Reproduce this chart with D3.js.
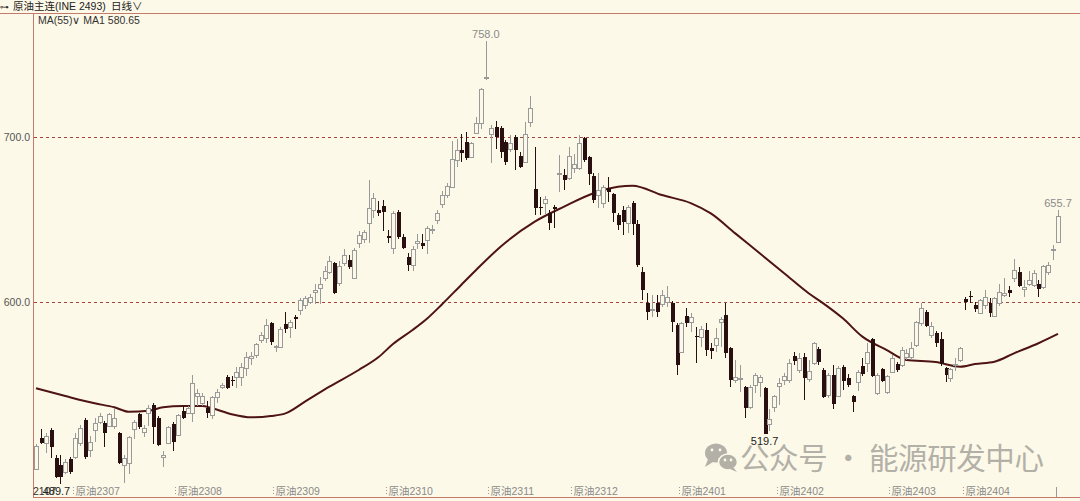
<!DOCTYPE html>
<html><head><meta charset="utf-8">
<script src="https://cdn.jsdelivr.net/npm/d3@7"></script>
<style>html,body{margin:0;padding:0;background:#fdf9e8;overflow:hidden}svg{display:block}</style>
</head><body><svg id="c" width="1080" height="501"></svg>
<script>
// ---- data ----
const opens = [
499,517.6,514.5,522.4,505.5,501,497,505,506,514.5,
528.5,510,522.4,527,526.7,525,525,520.6,501,502.4,
523,532,521,533,537.6,529.7,506,514.5,526,519.4,
534,533,533,543,539,536,531.5,542.4,548.5,554.5,
553,554.5,554.5,560,566,568,577,578,587,573,
573,586.7,584.8,591,595,598,600,606,608.5,614.5,
618,623.6,611.5,623.6,625.5,614.5,635.7,638,648,655.7,
656,658,640,633,654.5,639.4,627,622.4,635.8,635.8,
637.6,643.6,649.7,659.4,664.8,669.7,686,692,697,688,
702.4,708.5,735.8,701.8,706,705.5,697,692.7,700,688.5,
684.8,709,668.5,657.6,660,654,657.6,677.6,677,675,
681,681,699.4,688,676.4,664.8,660,669,665.5,652.7,
655.8,648,660,647,618,599.4,595.5,599.4,598.8,600,
599.4,586,569.7,591.5,588,579.4,578.8,583,572,574,
588,592,572,552.7,553.9,548.5,536.4,549.7,551.5,547.9,
526,536.4,549,552.7,552.7,567.3,558.8,566.7,553.3,563,
571.5,558.8,543.6,555.8,543,560.6,554,543,551.5,561.2,
563,577.6,544.8,559.4,545.5,557.6,562.4,561.8,566.7,566.7,
574,587.3,594,580,581.2,577.6,560,554,562,564.8,
601.8,603.6,598.2,593.3,598.2,599.4,591.5,599.4,604.2,607,
614.5,618,607.9,611,610.3,611,609,618,631.5,636.4];
const highs = [
514,523,520.6,523.6,507.3,507,505,506,520.6,525.5,
529.7,518.8,529.7,532.8,528,533,536,521,507.3,518.5,
528.5,532.8,525.5,537.6,539,531,510,525,527,532,
537,537,556,547,545,540,543,547,551,556,
555,560.6,563,570,570,575,582,590,588,574,
584.8,594,589,592,602.4,603.6,605,611,615,622,
628,624,625,632,628.5,632.7,643,643.6,674,666,
661,662,643.6,655,656,641,629.7,634,641,641,
646,646.6,656,667,672,697.6,699,701.6,703,697,
712,730,758,707.5,709.7,706.7,698,701,701,691,
709,724.8,694,663.6,664,656,659,689,680.6,694,
689.7,701,700,688.5,678,678,671,675.8,666,654,
658,659,661,649.7,621,605.5,604,604,607,610,
600.6,587,588,596.4,593.3,585,585.5,587.3,575,584,
591,599.4,572.7,564.8,561.8,549,550,557,556,548.5,
535,543.6,554,557,565.5,570,569,569,564.8,575.8,
573,560,557,561.8,561,562,556.4,543.6,559,566,
575,578.2,557,560,556,567.9,563.6,573,571.5,575.8,
588.5,599.4,595,588,582.4,581.8,560.6,560,566,573,
603,606.6,600,602,607,602.4,603,611,614.5,610,
626,621,613.3,618.8,619.4,613.3,622.4,624.2,634.5,655.7];
const lows = [
498,514,508.5,505.5,493.3,489.7,496,496,505,513,
505,506,515,526,512,524,523,502,490.5,496,
517,523,518,525,514,513,500,514,510,519,
529,532,527,537,537,530,529,539,547,547,
549,548,549,555,562,566,575,575,574,570,
572.7,581,578,583.6,592,596,599,599,599,613,
617,605,610,622,620,614,633,636,636,651,
652,643,636,629,638,632,619,619,632,632,
629,641,647,657,663,669,682,684.8,686,687,
701.6,705,734.5,684,693,687,683,691,680,681,
684,706,653,653,653,643.6,645,666.7,668,674,
678,680,685,671,660,657,657,660.6,648.5,643.6,
640.6,641.8,640.6,621,601,589,591,591,597,597,
582,555.8,569,585,582,563,573,567,565.5,569.7,
573,566,548.5,551,545.5,529.7,535,545,542.4,519.7,
522,533.3,537.6,550,551,561.8,557,540.6,551.5,561.8,
561.8,541.8,541.8,535,542.4,546.7,548.5,533.3,546,555,
557.6,554.5,543.6,551.5,544,557,557.6,560.6,564.8,564.8,
572.7,585.5,584.8,578,573,561.2,551.5,551.5,558,563.6,
595,599.4,594,593,596,591,591,597.6,603,603,
612,609,603,610,609,603,608,616.4,625.5,635.8];
const closes = [
513,514.5,518.8,512,494,494,503,497,517.6,523.6,
506,515,526.7,531,520.6,532,529.7,502.4,505.5,518,
527.3,524,523.6,536,524,513.3,507,524.2,515,531.5,
529.7,536,551,545,543,533,542.4,545.5,549.7,548,
552,557.6,560.6,566.7,567.3,574.5,580,586,575.8,573.3,
583.6,583.6,587.9,589.7,601,602.4,603,607,611,619,
625,605.5,621.8,628.5,621,631.5,640.6,642.4,657,663,
654,654.5,639,654,639.4,632.7,622.4,632,637,634,
644.8,644,654,664.8,670.3,686.7,692,690.3,687,696.4,
708.5,729,736.4,705.5,700,691,685,696.4,692,681.8,
701.8,717.6,657,657,662.4,648,656.4,678.2,674,688.5,
683.6,696.4,686,677.6,661.8,667.9,669.7,666.7,654,646.6,
648.5,657.6,647,622.4,607.3,594,596,594,604,603,
588,561.8,587.3,587.3,591,578.5,583.6,571,570.3,578,
589.7,569,552.7,554.5,554,535.8,548.5,555.8,554.5,520,
529,543,551,555,563,564.2,566,554,558.2,575,
563.6,542.4,555.8,538,560,552,549.7,539.4,557.6,556.4,
569.7,555,555.8,552,555,566,558.8,571,569,572,
588,596.4,585.5,585.5,575,562.4,555.8,559.4,562.3,572,
600,603,595.8,601,603,593.3,602.4,606,605.5,605.5,
619.4,609.7,609,613.3,617.6,608,621.8,622.4,632.1,652.1];
// MA(55): candle index -> value
const maIdx = [0,6,12,16,19,23,26,30,34,36,40,44,48,51,55,60,66,70,73,77,80,83,87,90,95,102,108,114,119,122,128,134,138,143,148,153,158,161,165,169,174,178,184,189,192,196,200,205,209];
const maVal = [547.7,543,538.6,536.2,533.5,534.1,536.2,537,537,535.6,532,530.1,530.9,532.5,539.6,548.7,558.8,566.5,574.5,583,590,598.5,610.5,619.4,633.5,648.7,657.8,665.9,669.9,670.5,664.8,659.8,653.7,641.6,629.5,617.4,605.3,599.2,590.1,579,570.9,564.8,563.6,560.8,562.4,563.8,568.9,575,580.65];
const yTicks = [600, 700];
const contractLabels = ["原油2307","原油2308","原油2309","原油2310","原油2311","原油2312","原油2401","原油2402","原油2403","原油2404"];
const contractStart = [8,29,49,72,93,110,132,152,175,190];
const maLast = 580.65;

// ---- chart ----
const W = 1080, H = 501;
const svg = d3.select("#c");
const bg = "#fdf9e8", frame = "#c67a6a", upC = "#9a9a9a", dnC = "#2a0f10", maC = "#4e1414";
const sans = "'Liberation Sans', Arial, sans-serif";
const cjk = "'Liberation Sans','Noto Sans CJK SC',sans-serif";
svg.append("rect").attr("width", W).attr("height", H).attr("fill", bg);

const x = d3.scaleLinear().domain([0, closes.length - 1]).range([36, 1058]);
const y = d3.scaleLinear().domain([600, 700]).range([302, 137]);
const px = v => Math.round(x(v));

// frame lines
svg.append("line").attr("x1", 0).attr("x2", W).attr("y1", 13.5).attr("y2", 13.5).attr("stroke", frame);
svg.append("line").attr("x1", 33.5).attr("x2", 33.5).attr("y1", 13).attr("y2", 498).attr("stroke", frame);
svg.append("line").attr("x1", 33).attr("x2", W).attr("y1", 497.5).attr("y2", 497.5).attr("stroke", frame);

// horizontal dashed grid + y labels
const gy = svg.append("g");
yTicks.forEach(t => {
  gy.append("line").attr("x1", 34).attr("x2", W).attr("y1", Math.round(y(t)) + 0.5).attr("y2", Math.round(y(t)) + 0.5)
    .attr("stroke", "#a4443a").attr("stroke-dasharray", "3,3");
});
const yAxis = d3.axisLeft(y).tickValues(yTicks).tickFormat(d3.format(".1f")).tickSize(0).tickPadding(3);
const ya = svg.append("g").attr("transform", "translate(33,0)").call(yAxis);
ya.select(".domain").remove();
ya.selectAll("text").attr("font-family", sans).attr("font-size", 10.5).attr("fill", "#555");

// MA line
const maPts = maIdx.map((d, i) => [d, maVal[i]]);
svg.append("path").datum(maPts)
  .attr("d", d3.line().x(d => x(d[0])).y(d => y(d[1])).curve(d3.curveMonotoneX))
  .attr("fill", "none").attr("stroke", maC).attr("stroke-width", 2);

// candles
const g = svg.append("g").attr("shape-rendering", "crispEdges");
closes.forEach((c, i) => {
  const o = opens[i], h = highs[i], l = lows[i];
  const cx = px(i);
  const up = c >= o;
  const top = Math.round(y(Math.max(o, c))), bot = Math.round(y(Math.min(o, c)));
  if (up) {
    g.append("line").attr("x1", cx + 0.5).attr("x2", cx + 0.5).attr("y1", y(h)).attr("y2", top).attr("stroke", upC);
    g.append("line").attr("x1", cx + 0.5).attr("x2", cx + 0.5).attr("y1", bot).attr("y2", y(l)).attr("stroke", upC);
    g.append("rect").attr("x", cx - 1.5).attr("y", top + 0.5).attr("width", 4).attr("height", Math.max(1, bot - top))
      .attr("fill", bg).attr("stroke", upC);
  } else {
    g.append("line").attr("x1", cx + 0.5).attr("x2", cx + 0.5).attr("y1", y(h)).attr("y2", y(l)).attr("stroke", dnC);
    g.append("rect").attr("x", cx - 1.5).attr("y", top).attr("width", 4).attr("height", Math.max(1, bot - top)).attr("fill", dnC);
  }
});

// extreme value labels
const iMax = d3.maxIndex(highs), iMin = d3.minIndex(lows);
svg.append("text").attr("x", x(iMax)).attr("y", y(highs[iMax]) - 3).attr("text-anchor", "middle")
  .attr("font-family", sans).attr("font-size", 11).attr("fill", "#8a8a8a").text(highs[iMax].toFixed(1));
svg.append("text").attr("x", x(iMin) - 4).attr("y", y(lows[iMin]) + 11).attr("text-anchor", "middle")
  .attr("font-family", sans).attr("font-size", 11).attr("fill", "#222").text(lows[iMin].toFixed(1));
const iLow2 = d3.minIndex(lows.slice(100)) + 100;
svg.append("text").attr("x", x(iLow2)).attr("y", y(lows[iLow2]) + 11).attr("text-anchor", "middle")
  .attr("font-family", sans).attr("font-size", 11).attr("fill", "#222").text(lows[iLow2].toFixed(1));
const iLast = closes.length - 1;
svg.append("text").attr("x", x(iLast)).attr("y", y(highs[iLast]) - 3).attr("text-anchor", "middle")
  .attr("font-family", sans).attr("font-size", 11).attr("fill", "#8a8a8a").text(highs[iLast].toFixed(1));

// x axis contract labels
const xa = svg.append("g");
contractStart.forEach((d, i) => {
  const tx = Math.round(x(d - 0.5)) + 0.5;
  xa.append("line").attr("x1", tx).attr("x2", tx).attr("y1", 487).attr("y2", 495)
    .attr("stroke", "#9a9a9a").attr("stroke-dasharray", "1,2");
  xa.append("text").attr("x", tx + 2).attr("y", 495).attr("font-family", cjk).attr("font-size", 10.5)
    .attr("fill", "#8a8a8a").text(contractLabels[i]);
});
xa.append("line").attr("x1", Math.round(x(iLast - 0.5)) + 0.5).attr("x2", Math.round(x(iLast - 0.5)) + 0.5)
  .attr("y1", 487).attr("y2", 497).attr("stroke", "#9a9a9a");
svg.append("text").attr("x", 33).attr("y", 495).attr("font-family", sans).attr("font-size", 10.5).attr("fill", "#333").text("2107");

// header
svg.append("text").attr("x", 0).attr("y", 10).attr("font-family", "'DejaVu Sans'").attr("font-size", 9).attr("fill", "#333").text("⊶");
svg.append("text").attr("x", 13).attr("y", 10).attr("font-family", cjk).attr("font-size", 10.5).attr("fill", "#222").text("原油主连(INE 2493)");
svg.append("text").attr("x", 111).attr("y", 10).attr("font-family", cjk).attr("font-size", 10.5).attr("fill", "#222").text("日线∨");
svg.append("text").attr("x", 38).attr("y", 24).attr("font-family", sans).attr("font-size", 10.5).attr("fill", "#333")
  .text("MA(55)∨ MA1 " + maLast.toFixed(2));

// watermark
const wm = svg.append("g").attr("fill", "#b3b0a8");
wm.append("ellipse").attr("cx", 716).attr("cy", 453).attr("rx", 11).attr("ry", 9.5);
wm.append("ellipse").attr("cx", 728).attr("cy", 462).attr("rx", 9.5).attr("ry", 8).attr("stroke", bg).attr("stroke-width", 1.5);
wm.append("path").attr("d", "M708,459 L705,467 L713,462 Z");
wm.append("path").attr("d", "M733,467 L737,472 L730,469 Z");
[[712,450],[720,450],[725,460],[731,460]].forEach(p => wm.append("circle").attr("cx", p[0]).attr("cy", p[1]).attr("r", 1.4).attr("fill", bg));
wm.append("text").attr("x", 740).attr("y", 469).attr("font-family", "'Noto Sans CJK SC'").attr("font-size", 29.5)
  .attr("textLength", 304).attr("lengthAdjust", "spacing").text("公众号 · 能源研发中心");
</script></body></html>
